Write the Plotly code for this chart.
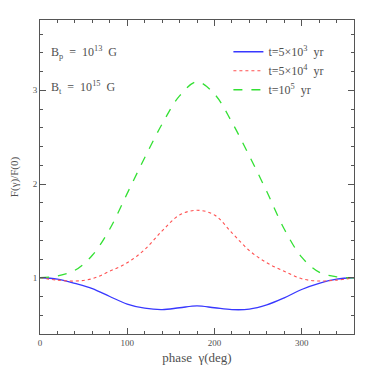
import plotly.graph_objects as go

phase = [0, 20, 40, 60, 80, 100, 120, 140, 160, 180, 200, 220, 240, 260, 280, 300, 320, 340, 360]
f_5e3 = [1.0, 0.985, 0.94, 0.885, 0.80, 0.72, 0.675, 0.66, 0.68, 0.70, 0.68, 0.66, 0.665, 0.71, 0.785, 0.875, 0.94, 0.985, 1.0]
f_5e4 = [1.0, 0.975, 0.965, 0.99, 1.07, 1.16, 1.30, 1.50, 1.67, 1.72, 1.67, 1.48, 1.29, 1.16, 1.07, 0.99, 0.965, 0.975, 1.0]
f_1e5 = [1.0, 1.02, 1.08, 1.24, 1.52, 1.90, 2.28, 2.64, 2.94, 3.09, 2.96, 2.66, 2.30, 1.92, 1.52, 1.22, 1.06, 1.01, 1.0]

names = ["t=5×10<sup>3</sup>  yr", "t=5×10<sup>4</sup>  yr", "t=10<sup>5</sup>  yr"]

serif = "Liberation Serif, DejaVu Serif, serif"
grey = "#555555"
txt = "#505050"

fig = go.Figure()
fig.add_trace(go.Scatter(x=phase, y=f_5e3, mode="lines", name=names[0],
                         line=dict(color="#3838ff", width=1.3, shape="spline")))
fig.add_trace(go.Scatter(x=phase, y=f_5e4, mode="lines", name=names[1],
                         line=dict(color="#ff5050", width=1.1, dash="dot", shape="spline")))
fig.add_trace(go.Scatter(x=phase, y=f_1e5, mode="lines", name=names[2],
                         line=dict(color="#33e033", width=1.3, dash="dash", shape="spline")))

axis = dict(showgrid=False, zeroline=False, showline=True, linecolor=grey, linewidth=1,
            mirror="ticks", ticks="inside", ticklen=6, tickcolor=grey, automargin=False,
            tickfont=dict(family=serif, size=9, color=txt))

fig.update_xaxes(range=[0, 360], dtick=100, tick0=0,
                 minor=dict(dtick=20, ticks="inside", ticklen=3, tickcolor=grey),
                 title=dict(text="phase  γ(deg)", font=dict(family=serif, size=13, color=txt), standoff=6),
                 **axis)
fig.update_yaxes(range=[0.4, 3.75], dtick=1, tick0=0,
                 minor=dict(dtick=0.2, ticks="inside", ticklen=3, tickcolor=grey),
                 title=dict(text="F(γ)/F(0)", font=dict(family=serif, size=11, color=txt), standoff=18),
                 **axis)

fig.add_annotation(x=0.03, y=0.93, xref="paper", yref="paper", xanchor="left", showarrow=False,
                   text="B<sub>p</sub>  =  10<sup>13</sup>  G", font=dict(family=serif, size=12, color=txt))
fig.add_annotation(x=0.03, y=0.82, xref="paper", yref="paper", xanchor="left", showarrow=False,
                   text="B<sub>t</sub>  =  10<sup>15</sup>  G", font=dict(family=serif, size=12, color=txt))

# the page body adds an 8px offset, so the margins are shifted to compensate
fig.update_layout(
    width=374, height=374,
    margin=dict(l=32, r=28, t=12, b=48),
    plot_bgcolor="white", paper_bgcolor="white",
    legend=dict(x=0.6, y=0.945, xanchor="left", yanchor="top", bgcolor="rgba(0,0,0,0)",
                font=dict(family=serif, size=12, color=txt), tracegroupgap=4),
)

fig.write_html("out.html")
